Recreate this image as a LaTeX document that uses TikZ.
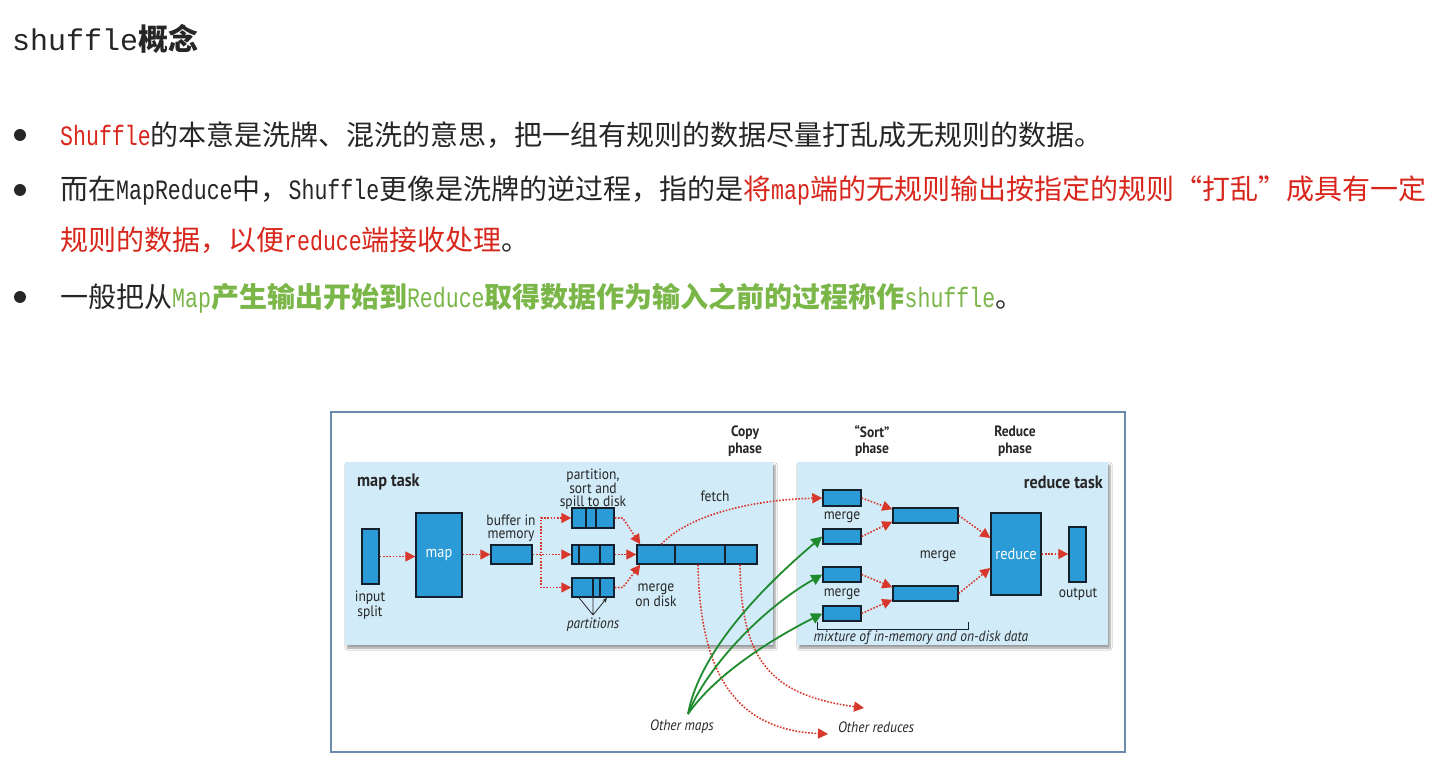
\documentclass[tikz,border=0pt]{standalone}
\usepackage{fontspec}
\usepackage{xcolor}
\usetikzlibrary{arrows.meta,shadows.blur}

\setmainfont{Noto Sans CJK SC}
\newfontfamily\lm[FakeStretch=0.77]{Liberation Mono}
\newfontfamily\ttm{Liberation Mono}
\newfontfamily\fwq[RawFeature=+fwid]{Noto Sans CJK SC}
\newfontfamily\diag[FakeStretch=0.9]{PT Sans}

\definecolor{hired}{HTML}{D9261C}
\definecolor{higreen}{HTML}{7AB648}
\definecolor{bodytext}{HTML}{262626}
\definecolor{boxblue}{HTML}{2A9BD6}
\definecolor{boxline}{HTML}{14212C}
\definecolor{panelblue}{HTML}{D2EBF8}
\definecolor{flowred}{HTML}{D8382B}
\definecolor{feedgreen}{HTML}{1F8B2E}
\definecolor{framecol}{HTML}{6A8BAE}

\tikzset{
  para/.style={anchor=base west, inner sep=0pt, text=bodytext, font=\fontsize{28}{34}\selectfont},
  blk/.style={draw=boxline, fill=boxblue, line width=1.4pt, inner sep=0pt},
  divider/.style={draw=boxline, line width=1.4pt},
  panel/.style={fill=panelblue, blur shadow={shadow xshift=2pt, shadow yshift=-3pt, shadow blur steps=5}},
  flow/.style={draw=flowred, line width=1.6pt, dash pattern=on 1.6pt off 1.6pt,
    -{Triangle[length=10pt,width=10pt]}},
  feed/.style={draw=feedgreen, line width=1.8pt, -{Triangle[length=11pt,width=11pt]}},
  lbl/.style={align=center, inner sep=0pt, text=black!85,
    font=\diag\fontsize{15}{13}\selectfont},
  ilbl/.style={lbl, font=\diag\itshape\fontsize{15}{15}\selectfont},
  hdr/.style={lbl, font=\diag\bfseries\fontsize{15}{16.5}\selectfont},
  task/.style={lbl, font=\diag\bfseries\fontsize{18}{20}\selectfont},
}

\begin{document}
\begin{tikzpicture}[x=1pt,y=-1pt]

% Page
\useasboundingbox[fill=white] (0,0) rectangle (1448,767);

% Title
\node[anchor=base west, inner sep=0pt, text=bodytext, font=\fontsize{30}{36}\selectfont]
  (title) at (12,51) {{\ttm shuffle}{\bfseries 概念}};

% Bullets
\foreach \y in {135,190,297}{
  \fill[bodytext] (20,\y) circle[radius=6pt];
}
\node[para] (b1) at (60,145.5)
  {{\color{hired}\lm Shuffle}的本意是洗牌、混洗的意思，把一组有规则的数据尽量打乱成无规则的数据。};
\node[para] (b2) at (60,200)
  {而在{\lm MapReduce}中，{\lm Shuffle}更像是洗牌的逆过程，指的是{\color{hired}将{\lm map}端的无规则输出按指定的规则{\fwq “}打乱{\fwq ”}成具有一定}};
\node[para] (b3) at (60,251)
  {{\color{hired}规则的数据，以便{\lm reduce}端接收处理}。};
\node[para] (b4) at (60,307)
  {一般把从{\color{higreen}\bfseries{\mdseries\lm Map}产生输出开始到{\mdseries\lm Reduce}取得数据作为输入之前的过程称作{\mdseries\lm shuffle}}。};

% Frame
\draw[framecol, line width=2pt, fill=white] (331,412) rectangle (1125,752);

% Panels
\fill[panel] (345,462) rectangle (773,645);
\fill[panel] (797,462) rectangle (1108,645);

% Phase headings
\node[hdr] (copyph) at (745,441) {Copy\\phase};
\node[hdr] (sortph) at (872,441) {“Sort”\\phase};
\node[hdr] (redph) at (1015,441) {Reduce\\phase};
\node[task, anchor=west] (maptask) at (357,482) {map task};
\node[task, anchor=east] (redtask) at (1103,482) {reduce task};

% Map side boxes
\node[blk, minimum width=17pt, minimum height=55pt] (split) at (370.5,556.5) {};
\node[blk, minimum width=46pt, minimum height=84pt, text=white, font=\diag\fontsize{16}{17}\selectfont] (mapbox) at (439,555) {map};
\node[blk, minimum width=41pt, minimum height=19pt] (buf) at (511.5,554.5) {};
\node[blk, minimum width=42pt, minimum height=20pt] (sp1) at (593,518) {};
\node[blk, minimum width=42pt, minimum height=19pt] (sp2) at (593,554.5) {};
\node[blk, minimum width=42pt, minimum height=19pt] (sp3) at (593,587.5) {};
\node[blk, minimum width=120pt, minimum height=19pt] (mrg) at (697,554.5) {};
\foreach \b/\x in {sp1/586,sp1/596,sp2/579,sp2/600,sp3/593,sp3/600,mrg/675,mrg/725}{
  \draw[divider] (\x,0 |- \b.north) -- (\x,0 |- \b.south);
}

% Map side labels
\node[lbl] (splitlbl) at (370,605) {input\\split};
\node[lbl] (buflbl) at (511,528) {buffer in\\memory};
\node[lbl] (spilllbl) at (593,489) {partition,\\sort and\\spill to disk};
\node[lbl] (mrglbl) at (656,595) {merge\\on disk};
\node[ilbl] (partlbl) at (593,625) {partitions};
\node[lbl] (fetchlbl) at (715,496) {fetch};

% Reduce side boxes
\node[blk, minimum width=38pt, minimum height=16pt] (r1) at (842,498) {};
\node[blk, minimum width=38pt, minimum height=15pt] (r2) at (842,536.5) {};
\node[blk, minimum width=38pt, minimum height=15pt] (r3) at (842,574.5) {};
\node[blk, minimum width=38pt, minimum height=15pt] (r4) at (842,613.5) {};
\node[blk, minimum width=65pt, minimum height=15pt] (m1) at (925.5,515.5) {};
\node[blk, minimum width=65pt, minimum height=15pt] (m2) at (925.5,593.5) {};
\node[blk, minimum width=50pt, minimum height=82pt, text=white, font=\diag\fontsize{16}{17}\selectfont] (redbox) at (1016,554) {reduce};
\node[blk, minimum width=17pt, minimum height=55pt] (out) at (1077.5,554.5) {};

% Reduce side labels
\node[lbl] (mg1) at (842,517) {merge};
\node[lbl] (mg2) at (842,594) {merge};
\node[lbl] (mg3) at (938,556) {merge};
\node[lbl] (outlbl) at (1078,594) {output};
\node[ilbl] (mixlbl) at (921,638) {mixture of in-memory and on-disk data};
\draw[boxline, line width=0.8pt] (817,622) -- (817,629) -- (968,629) -- (968,622);

% Outside labels
\node[ilbl] (omaps) at (682,727) {Other maps};
\node[ilbl] (oreds) at (876,727) {Other reduces};
\coordinate (gsrc) at (688,714);
\coordinate (ored1) at (864,708);
\coordinate (ored2) at (828,734);
\coordinate (fork) at (541,554.5);

% Map side flow
\draw[flow] (split.east) -- (split.east -| mapbox.west);
\draw[flow] (mapbox.east |- buf.west) -- (buf.west);
\draw[flow] (buf.east) -- (fork) |- (sp1.west);
\draw[flow] (buf.east) -- (sp2.west);
\draw[flow] (fork) |- (sp3.west);
\draw[flow] (sp1.east) -- ++(8,0) -- ([xshift=4pt]mrg.north west);
\draw[flow] (sp2.east) -- (mrg.west);
\draw[flow] (sp3.east) -- ++(8,0) -- ([xshift=4pt]mrg.south west);
\draw[black!85, line width=0.8pt, -{Stealth[length=5pt,width=4pt]}]
  (partlbl.north) ++(0,-3) coordinate (papex)
  (papex) -- ([xshift=-14pt]sp3.south)
  (papex) -- (sp3.south)
  (papex) -- ([xshift=14pt]sp3.south);

% Copy phase
\draw[flow] ([xshift=25pt]mrg.north west) .. controls (685,518) and (745,500) .. (r1.west);
\draw[flow] ([xshift=1pt]mrg.south) .. controls (700,680) and (740,730) .. (ored2);
\draw[flow] ([xshift=43pt]mrg.south) .. controls (741,660) and (770,695) .. (ored1);
\draw[feed] (gsrc) .. controls (700,650) and (765,585) .. (r2.west);
\draw[feed] (gsrc) .. controls (705,670) and (760,610) .. (r3.west);
\draw[feed] (gsrc) .. controls (715,675) and (770,640) .. (r4.west);

% Reduce side flow
\draw[flow] (r1.east) -- ([yshift=-2pt]m1.north west);
\draw[flow] (r2.east) -- ([yshift=2pt]m1.south west);
\draw[flow] (r3.east) -- ([yshift=-2pt]m2.north west);
\draw[flow] (r4.east) -- ([yshift=2pt]m2.south west);
\draw[flow] (m1.east) -- ([yshift=16pt]redbox.west);
\draw[flow] (m2.east) -- ([yshift=-14pt]redbox.west);
\draw[flow] (redbox.east) -- (redbox.east -| out.west);

\end{tikzpicture}
\end{document}
